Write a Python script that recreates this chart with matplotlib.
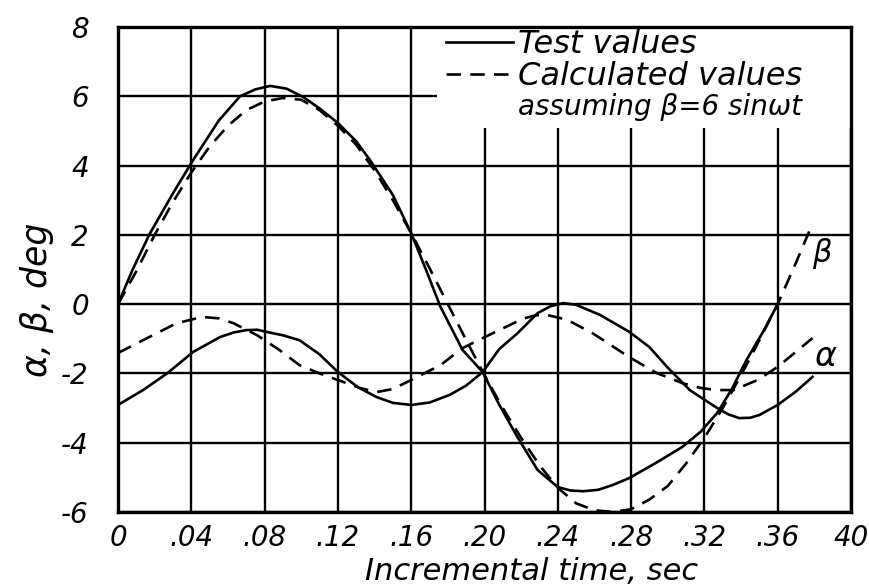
import matplotlib
matplotlib.use('Agg')
import matplotlib.pyplot as plt
from matplotlib.patches import Rectangle

# Kurven (Zeit in s, Winkel in Grad)
t_beta_test = [0, 0.008, 0.0175, 0.03, 0.041, 0.055, 0.0666, 0.075, 0.083, 0.092, 0.101, 0.11,
               0.12, 0.13, 0.1375, 0.15, 0.16, 0.168, 0.176, 0.188, 0.199, 0.208, 0.218, 0.229,
               0.240, 0.247, 0.254, 0.262, 0.270, 0.279, 0.293, 0.308, 0.318, 0.327, 0.335,
               0.343, 0.352, 0.36]
beta_test = [0, 1.0, 2.05, 3.2, 4.16, 5.3, 6.0, 6.2, 6.3, 6.22, 5.98, 5.65,
             5.23, 4.7, 4.16, 3.15, 2.05, 1.0, -0.08, -1.32, -1.96, -2.9, -3.84, -4.79,
             -5.28, -5.38, -5.40, -5.36, -5.22, -5.02, -4.6, -4.12, -3.68, -3.14, -2.45,
             -1.61, -0.8, 0.0]

t_beta_calc = [0, 0.01, 0.02, 0.03, 0.04, 0.05, 0.06, 0.07, 0.08, 0.09, 0.10, 0.11, 0.12,
               0.13, 0.14, 0.15, 0.16, 0.17, 0.18, 0.19, 0.20, 0.21, 0.22, 0.23, 0.24,
               0.25, 0.26, 0.27, 0.28, 0.29, 0.30, 0.31, 0.32, 0.33, 0.34, 0.35, 0.36,
               0.37, 0.378]
beta_calc = [0, 0.95, 2.0, 2.95, 3.8, 4.55, 5.15, 5.6, 5.85, 5.95, 5.9, 5.6, 5.15,
             4.6, 3.86, 3.0, 2.05, 1.04, 0, -1.04, -2.05, -3.0, -3.86, -4.65, -5.3,
             -5.75, -5.95, -6.0, -5.92, -5.64, -5.25, -4.6, -3.86, -3.0, -2.05, -1.04, 0,
             1.2, 2.2]

t_alpha_test = [0, 0.0137, 0.027, 0.041, 0.0557, 0.063, 0.070, 0.076, 0.081, 0.09, 0.099,
                0.11, 0.12, 0.131, 0.141, 0.15, 0.160, 0.17, 0.181, 0.19, 0.199, 0.208,
                0.218, 0.229, 0.236, 0.243, 0.25, 0.263, 0.279, 0.29, 0.2996, 0.312,
                0.327, 0.333, 0.339, 0.345, 0.35, 0.36, 0.37, 0.379]
alpha_test = [-2.91, -2.48, -1.99, -1.38, -0.95, -0.82, -0.75, -0.74, -0.80, -0.9, -1.04,
              -1.45, -1.96, -2.4, -2.68, -2.85, -2.91, -2.84, -2.62, -2.35, -1.96, -1.3,
              -0.84, -0.26, -0.06, 0.03, -0.02, -0.31, -0.80, -1.24, -1.81, -2.48,
              -3.0, -3.18, -3.29, -3.28, -3.2, -2.91, -2.52, -2.10]

t_alpha_calc = [0, 0.0137, 0.032, 0.046, 0.055, 0.063, 0.076, 0.088, 0.099, 0.11, 0.12, 0.132,
                0.141, 0.15, 0.160, 0.176, 0.188, 0.199, 0.208, 0.221, 0.228, 0.234, 0.245,
                0.259, 0.279, 0.294, 0.308, 0.318, 0.327, 0.336, 0.349, 0.36, 0.379]
alpha_calc = [-1.41, -1.04, -0.55, -0.37, -0.41, -0.55, -0.9, -1.32, -1.76, -2.0, -2.19,
              -2.42, -2.54, -2.45, -2.19, -1.76, -1.27, -0.98, -0.75, -0.42, -0.32, -0.31,
              -0.45, -0.84, -1.53, -1.99, -2.28, -2.42, -2.48, -2.48, -2.19, -1.81, -0.98]

x_ticks = [0, 0.04, 0.08, 0.12, 0.16, 0.20, 0.24, 0.28, 0.32, 0.36, 0.40]
x_ticklabels = ['0', '.04', '.08', '.12', '.16', '.20', '.24', '.28', '.32', '.36', '40']
y_ticks = [-6, -4, -2, 0, 2, 4, 6, 8]

plt.rcParams['font.family'] = ['DejaVu Sans']
plt.rcParams['axes.axisbelow'] = True
plt.rcParams['axes.unicode_minus'] = False

fig = plt.figure(figsize=(8.69, 5.88), dpi=100)
ax = fig.add_axes([118 / 869, 1 - 512 / 588, 733 / 869, 485 / 588])

lw = 1.9
dash = (0, (5.5, 3.5))
ax.plot(t_beta_test, beta_test, color='black', lw=lw, zorder=3, solid_joinstyle='round')
ax.plot(t_beta_calc, beta_calc, color='black', lw=lw, linestyle=dash, zorder=3)
ax.plot(t_alpha_test, alpha_test, color='black', lw=lw, zorder=3, solid_joinstyle='round')
ax.plot(t_alpha_calc, alpha_calc, color='black', lw=lw, linestyle=dash, zorder=3)

ax.set_xlim(0, 0.40)
ax.set_ylim(-6, 8)
ax.set_xticks(x_ticks)
ax.set_xticklabels(x_ticklabels)
ax.set_yticks(y_ticks)
ax.grid(color='black', lw=1.7)
for s in ax.spines.values():
    s.set_linewidth(2.4)

ax.tick_params(axis='both', length=0, labelsize=20)
ax.tick_params(axis='x', pad=9)
ax.tick_params(axis='y', pad=21)
for lab in ax.get_xticklabels() + ax.get_yticklabels():
    lab.set_fontstyle('italic')

# Legendenfeld deckt das Gitter ab
ax.add_patch(Rectangle((0.435, 0.792), 0.565, 0.208, transform=ax.transAxes,
                       facecolor='white', edgecolor='none', zorder=1))

h1, = ax.plot([], [], color='black', lw=lw)
h2, = ax.plot([], [], color='black', lw=lw, linestyle=dash)
h3, = ax.plot([], [], color='none')
leg = ax.legend([h1, h2, h3], ['Test values', 'Calculated values', 'assuming β=6 sinωt'],
                loc='upper left', bbox_to_anchor=(0.43, 1.022), frameon=False,
                handlelength=2.1, handletextpad=0.15, labelspacing=0.02,
                borderaxespad=0, prop={'size': 23, 'style': 'italic'})
leg.get_texts()[2].set_fontsize(20)

ax.text(0.384, 1.45, 'β', fontsize=22, style='italic', ha='center', va='center', zorder=4)
ax.text(0.386, -1.5, 'α', fontsize=24, style='italic', ha='center', va='center', zorder=4)

fig.text(37 / 869, 1 - 300 / 588, 'α, β, deg', rotation=90, fontsize=25, style='italic',
         ha='center', va='center')
fig.text(532 / 869, 1 - 572 / 588, 'Incremental time, sec', fontsize=22, style='italic',
         ha='center', va='center')

plt.savefig('out.png', dpi=100)
